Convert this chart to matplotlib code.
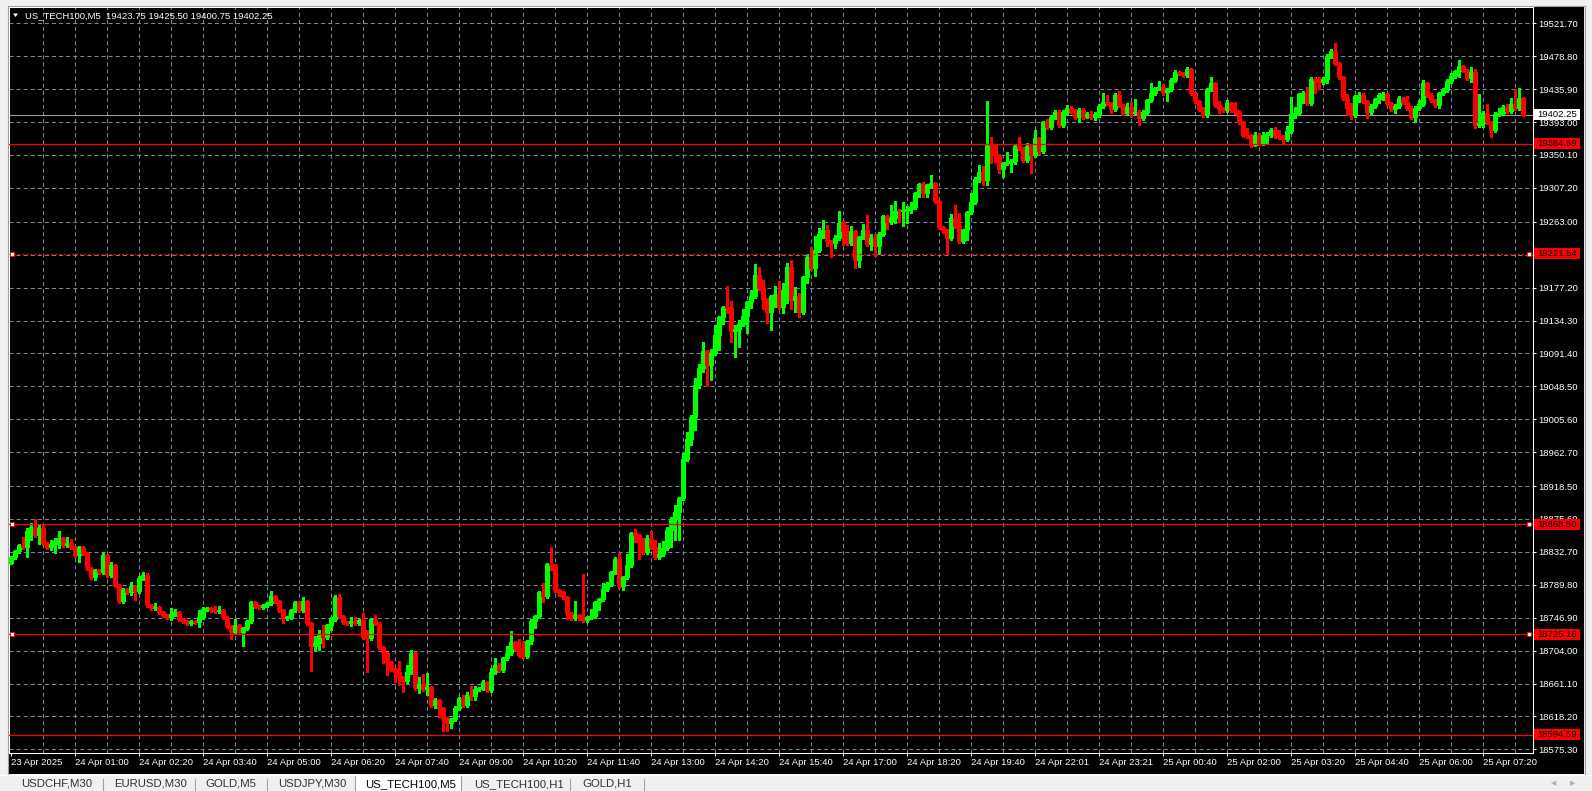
import matplotlib
matplotlib.use("Agg")
import matplotlib.pyplot as plt
from matplotlib.patches import Rectangle, Polygon
from matplotlib.transforms import blended_transform_factory

plt.rcParams['font.family'] = ['Liberation Sans', 'DejaVu Sans']
plt.rcParams['lines.scale_dashes'] = False

# ---- data: US_TECH100 M5 candles (opens follow previous close) ----
symbol = "US_TECH100,M5"
first_open = 18818.3
closes = [
    18825.8, 18833.6, 18841.4, 18838.8, 18859.7, 18864.9, 18854.5, 18863.6, 18844.0, 18838.8, 18842.7, 18846.6, 18850.5, 18841.4, 18844.0, 18838.8,
    18828.4, 18838.8, 18831.0, 18811.4, 18799.7, 18808.8, 18806.2, 18828.4, 18802.3, 18815.3, 18789.2, 18768.4, 18784.0, 18780.1, 18787.9, 18781.4,
    18798.4, 18802.3, 18763.2, 18759.3, 18760.6, 18754.1, 18750.1, 18747.5, 18751.4, 18754.1, 18744.9, 18742.3, 18739.7, 18742.3, 18741.0, 18747.5,
    18758.0, 18759.3, 18756.7, 18755.4, 18756.7, 18747.5, 18735.8, 18728.0, 18737.1, 18728.0, 18733.2, 18742.3, 18767.1, 18761.9, 18760.6, 18763.2,
    18765.8, 18774.9, 18768.4, 18756.7, 18746.2, 18747.5, 18756.7, 18767.1, 18756.7, 18768.4, 18739.7, 18709.7, 18713.6, 18725.4, 18721.5, 18737.1,
    18744.9, 18773.6, 18748.8, 18741.0, 18739.7, 18742.3, 18739.7, 18743.6, 18721.5, 18720.2, 18744.9, 18739.7, 18708.4, 18700.6, 18688.9, 18679.7,
    18675.8, 18669.3, 18664.1, 18675.8, 18700.6, 18654.9, 18660.1, 18653.6, 18656.2, 18632.8, 18639.3, 18628.9, 18615.8, 18609.3, 18614.5, 18628.9,
    18641.9, 18632.8, 18645.8, 18644.5, 18653.6, 18654.9, 18662.8, 18652.3, 18675.8, 18684.9, 18678.4, 18694.1, 18700.6, 18714.9, 18707.1, 18698.0,
    18696.7, 18716.2, 18742.3, 18748.8, 18780.1, 18774.9, 18816.7, 18815.3, 18782.7, 18780.1, 18773.6, 18752.7, 18746.2, 18750.1, 18746.2, 18743.6,
    18747.5, 18748.8, 18767.1, 18771.0, 18784.0, 18790.5, 18806.2, 18823.2, 18787.9, 18799.7, 18815.3, 18857.1, 18854.5, 18845.3, 18832.3, 18850.5,
    18838.8, 18825.8, 18829.7, 18837.5, 18861.0, 18875.3, 18884.5, 18902.7, 18953.6, 18979.6, 19008.3, 19050.0, 19072.2, 19094.4, 19076.1, 19091.8,
    19115.3, 19138.7, 19151.8, 19150.5, 19120.5, 19123.1, 19129.6, 19140.0, 19158.3, 19166.1, 19193.5, 19176.5, 19162.2, 19145.3, 19166.1, 19168.7,
    19151.8, 19173.9, 19203.9, 19160.9, 19166.1, 19145.3, 19190.9, 19217.0, 19202.6, 19226.1, 19247.0, 19252.2, 19237.8, 19235.2, 19241.7, 19261.3,
    19250.9, 19235.2, 19250.9, 19213.1, 19243.0, 19252.2, 19233.9, 19241.7, 19231.3, 19247.0, 19270.4, 19262.6, 19267.8, 19277.0, 19276.5, 19278.3,
    19279.6, 19282.2, 19300.4, 19312.2, 19300.4, 19310.9, 19313.5, 19290.0, 19256.1, 19252.2, 19241.7, 19267.8, 19257.4, 19237.8, 19252.2, 19275.7,
    19288.7, 19318.7, 19327.8, 19317.4, 19364.3, 19363.0, 19350.0, 19331.7, 19339.5, 19341.0, 19342.5, 19361.7, 19359.1, 19343.5, 19361.7, 19350.0,
    19372.1, 19355.2, 19393.0, 19386.5, 19399.5, 19406.1, 19389.1, 19406.1, 19411.3, 19407.4, 19399.5, 19408.7, 19399.5, 19403.5, 19399.5, 19403.5,
    19413.9, 19419.1, 19417.8, 19410.0, 19428.2, 19415.2, 19404.8, 19412.6, 19404.8, 19406.1, 19398.2, 19406.1, 19421.7, 19430.8, 19437.3, 19438.6,
    19432.1, 19436.0, 19447.8, 19458.2, 19456.9, 19454.3, 19462.1, 19430.8, 19420.4, 19410.0, 19402.2, 19436.0, 19443.8, 19415.2, 19410.0, 19408.7,
    19417.8, 19408.7, 19406.1, 19393.0, 19376.1, 19374.8, 19363.0, 19376.1, 19365.6, 19376.1, 19377.4, 19382.6, 19374.8, 19373.5, 19370.8, 19381.3,
    19403.5, 19404.8, 19429.5, 19430.8, 19417.8, 19449.1, 19447.8, 19445.2, 19449.1, 19479.1, 19485.6, 19469.9, 19451.7, 19424.3, 19411.3, 19402.2,
    19426.9, 19428.2, 19420.4, 19406.1, 19413.9, 19423.0, 19428.2, 19429.5, 19417.8, 19410.0, 19413.9, 19424.3, 19419.1, 19411.3, 19399.5, 19411.3,
    19416.5, 19443.8, 19428.2, 19421.7, 19415.2, 19430.8, 19434.7, 19446.5, 19453.0, 19459.5, 19466.0, 19460.8, 19450.4, 19458.2, 19389.1, 19391.7,
    19404.8, 19393.0, 19382.6, 19403.5, 19404.8, 19412.6, 19407.4, 19416.5, 19411.3, 19423.75, 19402.25,
]
# wick lengths above / below the body, in index points
upper_wick = [
    2, 2, 2, 11, 4, 5, 10, 4, 6, 2, 5, 4, 9, 2, 8, 5,
    2, 2, 2, 2, 2, 2, 2, 4, 2, 4, 2, 2, 2, 2, 6, 2,
    3, 4, 3, 2, 5, 2, 2, 2, 8, 4, 2, 2, 2, 2, 2, 10,
    3, 2, 2, 5, 6, 2, 2, 2, 8, 2, 2, 2, 2, 2, 2, 2,
    2, 7, 2, 2, 2, 2, 2, 2, 2, 6, 2, 2, 9, 5, 12, 2,
    3, 3, 4, 2, 2, 6, 5, 2, 10, 9, 2, 6, 2, 2, 2, 2,
    2, 14, 2, 9, 4, 2, 9, 13, 18, 2, 3, 2, 2, 2, 2, 3,
    2, 4, 4, 12, 4, 2, 3, 2, 6, 9, 3, 2, 10, 14, 2, 12,
    19, 2, 3, 2, 2, 12, 2, 22, 2, 2, 2, 2, 2, 18, 2, 57,
    2, 9, 2, 2, 8, 3, 2, 3, 8, 2, 14, 2, 6, 2, 5, 4,
    10, 9, 14, 10, 4, 3, 9, 2, 8, 10, 3, 10, 5, 12, 2, 5,
    13, 2, 2, 27, 9, 6, 6, 9, 2, 8, 14, 10, 10, 2, 2, 10,
    17, 9, 5, 9, 12, 4, 2, 4, 13, 18, 8, 13, 6, 2, 4, 16,
    3, 8, 6, 2, 2, 8, 19, 6, 6, 3, 2, 2, 17, 13, 3, 10,
    4, 6, 2, 2, 3, 2, 10, 2, 2, 2, 2, 6, 17, 17, 2, 2,
    12, 3, 9, 8, 56, 9, 2, 2, 2, 13, 2, 2, 12, 2, 4, 2,
    10, 2, 2, 4, 2, 3, 2, 3, 4, 3, 2, 2, 3, 3, 4, 2,
    2, 12, 9, 2, 3, 5, 2, 5, 6, 17, 2, 2, 2, 13, 2, 8,
    4, 2, 2, 3, 2, 2, 3, 2, 2, 2, 2, 2, 8, 2, 5, 2,
    4, 2, 10, 3, 2, 9, 2, 4, 2, 4, 2, 3, 4, 8, 2, 6,
    22, 8, 2, 3, 8, 2, 3, 4, 2, 3, 3, 10, 2, 2, 5, 6,
    2, 4, 3, 2, 3, 2, 3, 3, 2, 2, 3, 3, 2, 8, 2, 2,
    5, 4, 2, 3, 2, 2, 3, 2, 4, 2, 8, 2, 2, 6, 4, 38,
    2, 12, 2, 2, 6, 2, 4, 8, 19, 14, 1.75,
]
lower_wick = [
    2, 3, 2, 2, 13, 12, 2, 11, 2, 2, 4, 12, 9, 2, 2, 2,
    2, 9, 2, 2, 3, 4, 2, 2, 2, 2, 2, 2, 2, 2, 4, 12,
    2, 2, 2, 2, 3, 2, 2, 2, 4, 2, 2, 2, 2, 2, 2, 6,
    2, 2, 2, 2, 2, 2, 2, 9, 2, 2, 18, 2, 2, 2, 2, 2,
    2, 2, 2, 2, 6, 2, 2, 2, 2, 2, 2, 32, 5, 9, 13, 2,
    6, 2, 2, 2, 2, 3, 2, 2, 2, 44, 2, 2, 2, 13, 17, 2,
    13, 10, 14, 2, 2, 2, 6, 2, 8, 2, 3, 12, 16, 10, 6, 2,
    2, 2, 2, 5, 5, 2, 2, 2, 2, 2, 2, 2, 2, 2, 2, 2,
    2, 2, 3, 9, 2, 8, 2, 6, 2, 5, 2, 8, 2, 2, 2, 2,
    2, 2, 2, 10, 2, 2, 2, 2, 2, 5, 2, 2, 9, 22, 2, 2,
    2, 3, 2, 2, 2, 22, 27, 36, 2, 3, 8, 17, 4, 5, 27, 19,
    2, 19, 9, 6, 14, 34, 23, 2, 22, 8, 2, 2, 13, 14, 23, 14,
    2, 8, 17, 12, 16, 6, 2, 8, 2, 10, 2, 5, 6, 18, 6, 2,
    18, 3, 2, 10, 9, 2, 3, 8, 13, 10, 2, 9, 2, 6, 14, 19,
    17, 5, 3, 5, 5, 5, 4, 2, 2, 4, 19, 3, 2, 2, 3, 13,
    2, 2, 4, 6, 6, 23, 9, 5, 10, 2, 13, 4, 2, 3, 3, 23,
    2, 4, 2, 2, 2, 2, 3, 2, 2, 2, 2, 6, 3, 1, 2, 4,
    4, 2, 2, 5, 3, 2, 3, 2, 5, 1, 9, 2, 2, 2, 3, 2,
    4, 12, 2, 2, 2, 2, 2, 2, 2, 2, 3, 2, 2, 2, 5, 2,
    3, 2, 2, 2, 2, 2, 2, 1, 2, 3, 12, 4, 2, 2, 5, 2,
    2, 5, 2, 12, 2, 3, 17, 9, 2, 5, 2, 2, 2, 2, 9, 5,
    2, 8, 2, 8, 2, 2, 5, 6, 2, 2, 5, 2, 2, 2, 2, 6,
    2, 2, 2, 3, 3, 4, 2, 2, 2, 2, 8, 2, 2, 5, 4, 3,
    5, 2, 9, 3, 2, 3, 2, 2, 2, 2, 1.5,
]

time_labels = ["23 Apr 2025", "24 Apr 01:00", "24 Apr 02:20", "24 Apr 03:40", "24 Apr 05:00",
               "24 Apr 06:20", "24 Apr 07:40", "24 Apr 09:00", "24 Apr 10:20", "24 Apr 11:40",
               "24 Apr 13:00", "24 Apr 14:20", "24 Apr 15:40", "24 Apr 17:00", "24 Apr 18:20",
               "24 Apr 19:40", "24 Apr 22:01", "24 Apr 23:21", "25 Apr 00:40", "25 Apr 02:00",
               "25 Apr 03:20", "25 Apr 04:40", "25 Apr 06:00", "25 Apr 07:20"]
price_ticks = [19521.70, 19478.80, 19435.90, 19393.00, 19350.10, 19307.20, 19263.00, 19220.10,
               19177.20, 19134.30, 19091.40, 19048.50, 19005.60, 18962.70, 18918.50, 18875.60,
               18832.70, 18789.80, 18746.90, 18704.00, 18661.10, 18618.20, 18575.30]
levels = [19364.69, 19221.54, 18868.50, 18725.16, 18594.59]
selected_levels = [19221.54, 18868.50, 18725.16]
last_price = 19402.25
ohlc_header = "19423.75 19425.50 19400.75 19402.25"
tabs = ["USDCHF,M30", "EURUSD,M30", "GOLD,M5", "USDJPY,M30", "US_TECH100,M5", "US_TECH100,H1", "GOLD,H1"]
active_tab = "US_TECH100,M5"

opens = [first_open] + closes[:-1]
highs = [max(o, c) + u for o, c, u in zip(opens, closes, upper_wick)]
lows = [min(o, c) - d for o, c, d in zip(opens, closes, lower_wick)]
n = len(closes)
idx = list(range(n))

W, H = 1592, 791
fig = plt.figure(figsize=(W / 100, H / 100), dpi=100, facecolor="#f0f0f0")

# window frame and tab bar, in pixel coordinates
bg = fig.add_axes([0, 0, 1, 1])
bg.set_xlim(0, W)
bg.set_ylim(H, 0)
bg.axis("off")
bg.add_patch(Rectangle((8, 6), 1576, 768, facecolor="black", edgecolor="none"))
bg.plot([7.5, 7.5], [6, 774], color="#a0a0a0", lw=0.8)
bg.plot([7.5, 1584.5], [5.5, 5.5], color="#a0a0a0", lw=0.8)
bg.plot([1584.5, 1584.5], [6, 774], color="#a0a0a0", lw=0.8)
bg.plot([0, W], [775, 775], color="white", lw=1)

tab_x = [21, 114, 205.5, 278, 365, 474.5, 582]
tab_seps = [103, 195, 267, 570, 644]
for sx in tab_seps:
    bg.plot([sx, sx], [779, 791], color="#a0a0a0", lw=0.8)
bg.add_patch(Rectangle((355, 775), 106, 17, facecolor="white", edgecolor="#a0a0a0", lw=0.8))
for tx, name in zip(tab_x, tabs):
    bg.text(tx, 784, name, fontsize=8.2, color="black" if name == active_tab else "#303030",
            va="center", ha="left")
bg.text(1554, 783, "◀", fontsize=5, color="#b0b0b0", va="center", ha="center", family="DejaVu Sans")
bg.text(1573, 783, "▶", fontsize=5, color="#b0b0b0", va="center", ha="center", family="DejaVu Sans")

# chart area
ax = fig.add_axes([9 / W, (H - 753) / H, 1524 / W, 746 / H], facecolor="black")
ax.set_xlim(-0.425, 380.575)
ax.set_ylim(18570.5, 19543.0)
for sp in ax.spines.values():
    sp.set_color("white")
    sp.set_linewidth(0.75)

grid_kw = dict(color="#778899", lw=0.75, linestyle=(0, (2.9, 2.2)), zorder=0.5)
for p in price_ticks:
    ax.axhline(p, **grid_kw)
for g in range(8, n + 2, 8):
    ax.axvline(g, **grid_kw)

ax.axhline(last_price, color="#9a9a9a", lw=0.75, zorder=1)

# candles: hollow green bulls, filled red bears
up = [c >= o for o, c in zip(opens, closes)]
wick_col = ["#00ff00" if u else "#ff0000" for u in up]
ax.vlines(idx, lows, highs, colors=wick_col, lw=0.75, zorder=2, antialiased=False)
body_h = [max(abs(c - o), 0.3) for o, c in zip(opens, closes)]
body_b = [min(o, c) for o, c in zip(opens, closes)]
ax.bar(idx, body_h, bottom=body_b, width=0.58,
       color=["black" if u else "#ff0000" for u in up],
       edgecolor=wick_col, linewidth=0.75, zorder=3, antialiased=False)

# horizontal price levels
for lv in levels:
    ls = (0, (1.5, 1.5)) if lv == 19221.54 else "-"
    ax.axhline(lv, color="#ff0000", lw=0.9, linestyle=ls, zorder=4)
for lv in selected_levels:
    ax.plot([0.4, 379.65], [lv, lv], "s", ms=3.2, mfc="white", mec="#ff0000", mew=0.6,
            zorder=5, clip_on=False)

# axis ticks and labels
ax.yaxis.tick_right()
ax.set_yticks(price_ticks)
ax.set_yticklabels([f"{p:.2f}" for p in price_ticks])
ax.tick_params(axis="y", colors="white", length=2.2, width=0.75, pad=1.5, labelsize=6.8)
ax.set_xticks(range(0, n, 16))
ax.set_xticklabels(time_labels)
ax.tick_params(axis="x", colors="white", length=2.2, width=0.75, pad=1.5, labelsize=6.8)
for lbl in ax.get_xticklabels():
    lbl.set_ha("left")

# right-hand price boxes
tr = blended_transform_factory(ax.transAxes, ax.transData)
boxes = [(lv, "#ff0000") for lv in levels] + [(last_price, "white")]
for lv, fc in boxes:
    ax.add_patch(Rectangle((1 + 1 / 1524, lv - 7.2), 46 / 1524, 14.4, transform=tr,
                           facecolor=fc, edgecolor="none", clip_on=False, zorder=6))
    ax.text(1 + 4 / 1524, lv, f"{lv:.2f}", transform=tr, fontsize=6.8, color="black",
            va="center", ha="left", zorder=7, clip_on=False)

# symbol header on top of the chart
top = fig.add_axes([0, 0, 1, 1], facecolor="none")
top.set_xlim(0, W)
top.set_ylim(H, 0)
top.axis("off")
top.add_patch(Polygon([(13, 13.5), (18, 13.5), (15.5, 17)], closed=True,
                      facecolor="white", edgecolor="none"))
top.text(25, 15.5, symbol + "  " + ohlc_header, fontsize=6.8, color="white", va="center")

fig.savefig("out.png", dpi=100, facecolor=fig.get_facecolor())
